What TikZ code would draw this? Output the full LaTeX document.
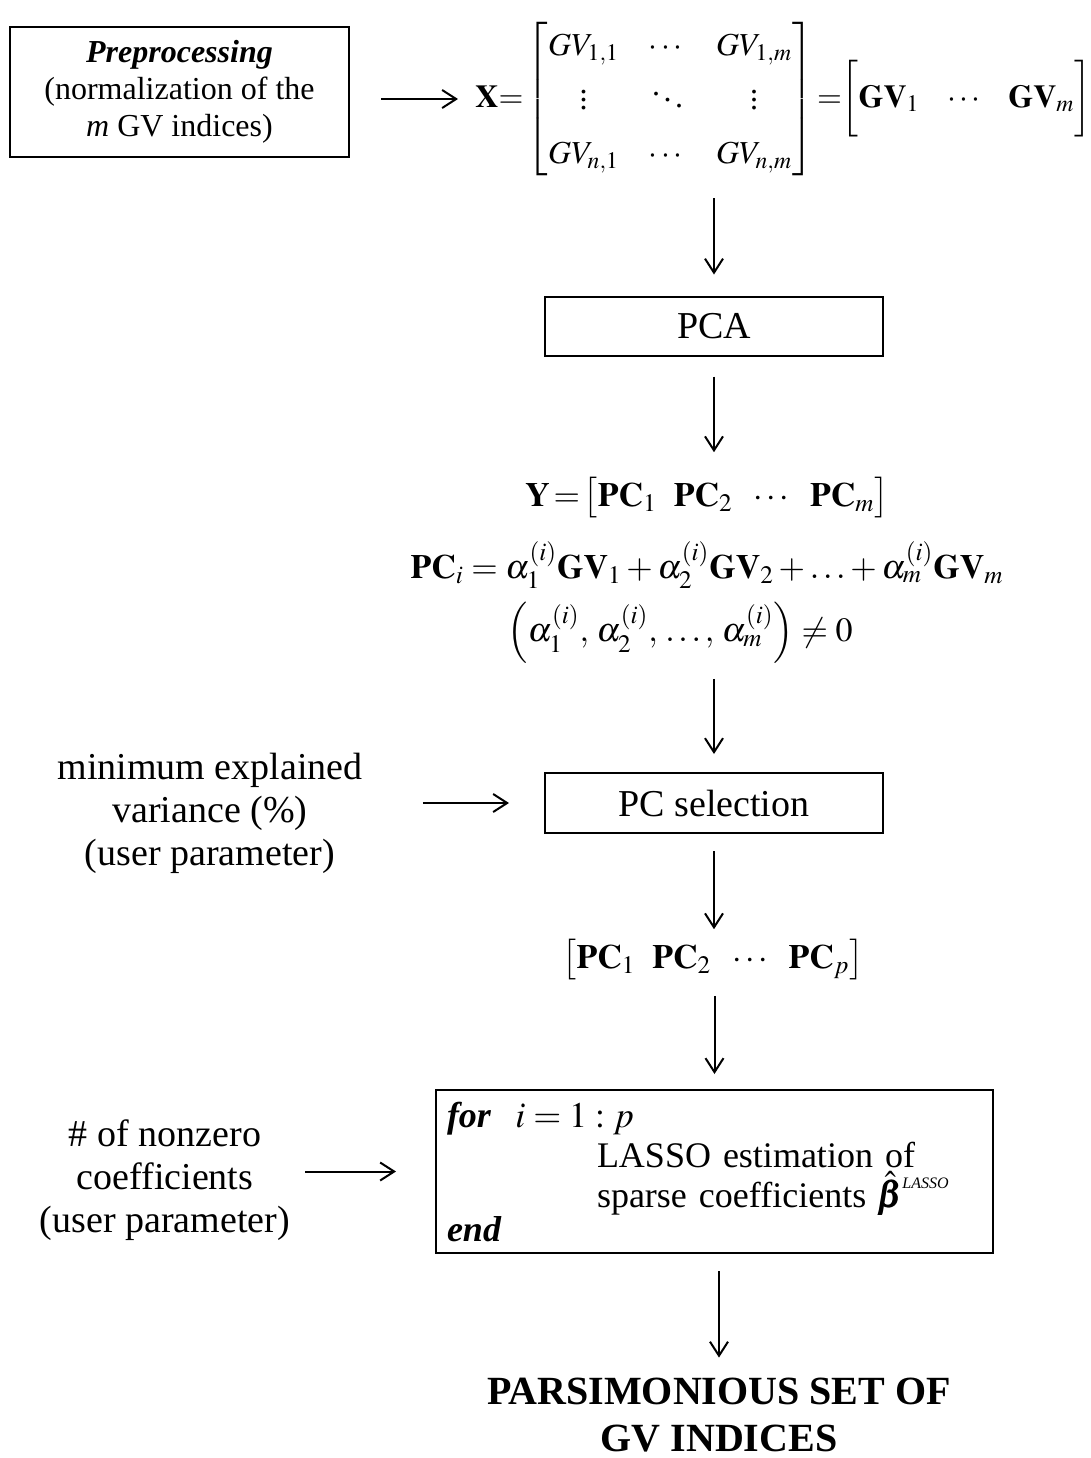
\documentclass[tikz,border=0pt]{standalone}
\usepackage{amsmath}
\usepackage{mathptmx}
\usepackage{fontspec}
\setmainfont{Liberation Serif}
\usetikzlibrary{arrows.meta}

\tikzset{
  box/.style={draw, line width=1pt, align=center, inner sep=0pt},
  arr/.style={line width=1pt, -{Straight Barb[length=7pt,width=9pt]}},
  body/.style={font=\fontsize{19}{21.5}\selectfont, align=center, inner sep=0pt},
  small/.style={font=\fontsize{16}{18.5}\selectfont, align=center, inner sep=0pt},
  eqn/.style={font=\fontsize{17}{20}\selectfont, align=center, inner sep=0pt},
}

\begin{document}
\begin{tikzpicture}[x=0.5pt, y=-0.5pt]
        \useasboundingbox (0,0) rectangle (1091,1458);

        % input data
                \node[box, small, minimum width=169.5pt, minimum height=65pt] (prep) at (179.5,92)
                    {\textbf{\textit{Preprocessing}}\\(normalization of the\\\textit{m} GV indices)};

                \node[eqn, font=\fontsize{16}{20}\selectfont, anchor=west] (matX) at (475,99) {%
                    \renewcommand{\arraystretch}{1.35}\setlength{\arraycolsep}{7.5pt}%
                    $\mathbf{X}{=}\begin{bmatrix}
                        GV_{1,1} & \cdots & GV_{1,m}\\
                        \vdots & \ddots & \vdots\\
                        GV_{n,1} & \cdots & GV_{n,m}
                    \end{bmatrix}{=}\bigg[\mathbf{GV}_1\hspace{12pt}\cdots\hspace{12pt}\mathbf{GV}_m\bigg]$};

        % principal components
                \node[box, body, minimum width=169pt, minimum height=29.5pt] (pca) at (714,326) {PCA};

                \node[eqn] (yeq) at (707,498)
                    {$\mathbf{Y}\,{=}\,\big[\mathbf{PC}_1\enspace\mathbf{PC}_2\enspace\cdots\enspace\mathbf{PC}_m\big]$};
                \node[eqn] (pceq) at (707,565)
                    {$\mathbf{PC}_i=\alpha_1^{(i)}\mathbf{GV}_1+\alpha_2^{(i)}\mathbf{GV}_2+\ldots+\alpha_m^{(i)}\mathbf{GV}_m$};
                \node[eqn] (alphaeq) at (680,633)
                    {$\left(\alpha_1^{(i)},\,\alpha_2^{(i)},\,\ldots,\,\alpha_m^{(i)}\right)\neq 0$};

        % selection
                \node[box, body, minimum width=169pt, minimum height=30pt] (pcsel) at (714,803) {PC selection};
                \node[body] (varin) at (210,813) {minimum explained\\variance (\%)\\(user parameter)};

                \node[eqn] (pcp) at (713,960)
                    {$\big[\mathbf{PC}_1\enspace\mathbf{PC}_2\enspace\cdots\enspace\mathbf{PC}_p\big]$};

        % sparse estimation
                \node[box, body, font=\fontsize{18}{20}\selectfont, align=left, inner xsep=5.5pt,
                      text width=267.5pt, minimum height=81.5pt] (lasso) at (714.5,1171.5)
                    {\textbf{\textit{for}}~~$i=1:p$\\
                     \mbox{\hspace*{75pt}LASSO estimation of}\\
                     \mbox{\hspace*{75pt}sparse coefficients $\hat{\pmb{\beta}}$\raisebox{1.1ex}{\fontsize{8}{8}\selectfont\itshape LASSO}}\\[-3pt]
                     \textbf{\textit{end}}};
                \node[body] (nzin) at (165,1180) {\# of nonzero\\coefficients\\(user parameter)};

                \node[body, font=\fontsize{20}{23.5}\selectfont\bfseries] (result) at (719,1415)
                    {PARSIMONIOUS SET OF\\GV INDICES};

        % arrows
                \draw[arr, shorten <=15.5pt, shorten >=8.5pt] (prep.east |- matX.west) -- (matX.west);
                \draw[arr, shorten <=9pt, shorten >=10.5pt] (pca.north |- matX.south) -- (pca.north);
                \draw[arr, shorten <=10pt, shorten >=12.5pt] (pca.south) -- (pca.south |- yeq.north);
                \draw[arr, shorten <=7.5pt, shorten >=9pt] (pcsel.north |- alphaeq.south) -- (pcsel.north);
                \draw[arr, shorten <=8.5pt, shorten >=5pt] (pcsel.south) -- (pcsel.south |- pcp.north);
                \draw[arr, shorten <=7.5pt, shorten >=7.5pt] (lasso.north |- pcp.south) -- (lasso.north);
                \draw[arr, shorten <=8.5pt, shorten >=10pt] (result.north |- lasso.south) -- (result.north);
                \draw[arr, shorten <=30pt, shorten >=17.5pt] (varin.east |- pcsel.west) -- (pcsel.west);
                \draw[arr, shorten <=7.5pt, shorten >=19.5pt] (nzin.east |- lasso.west) -- (lasso.west);

\end{tikzpicture}
\end{document}
